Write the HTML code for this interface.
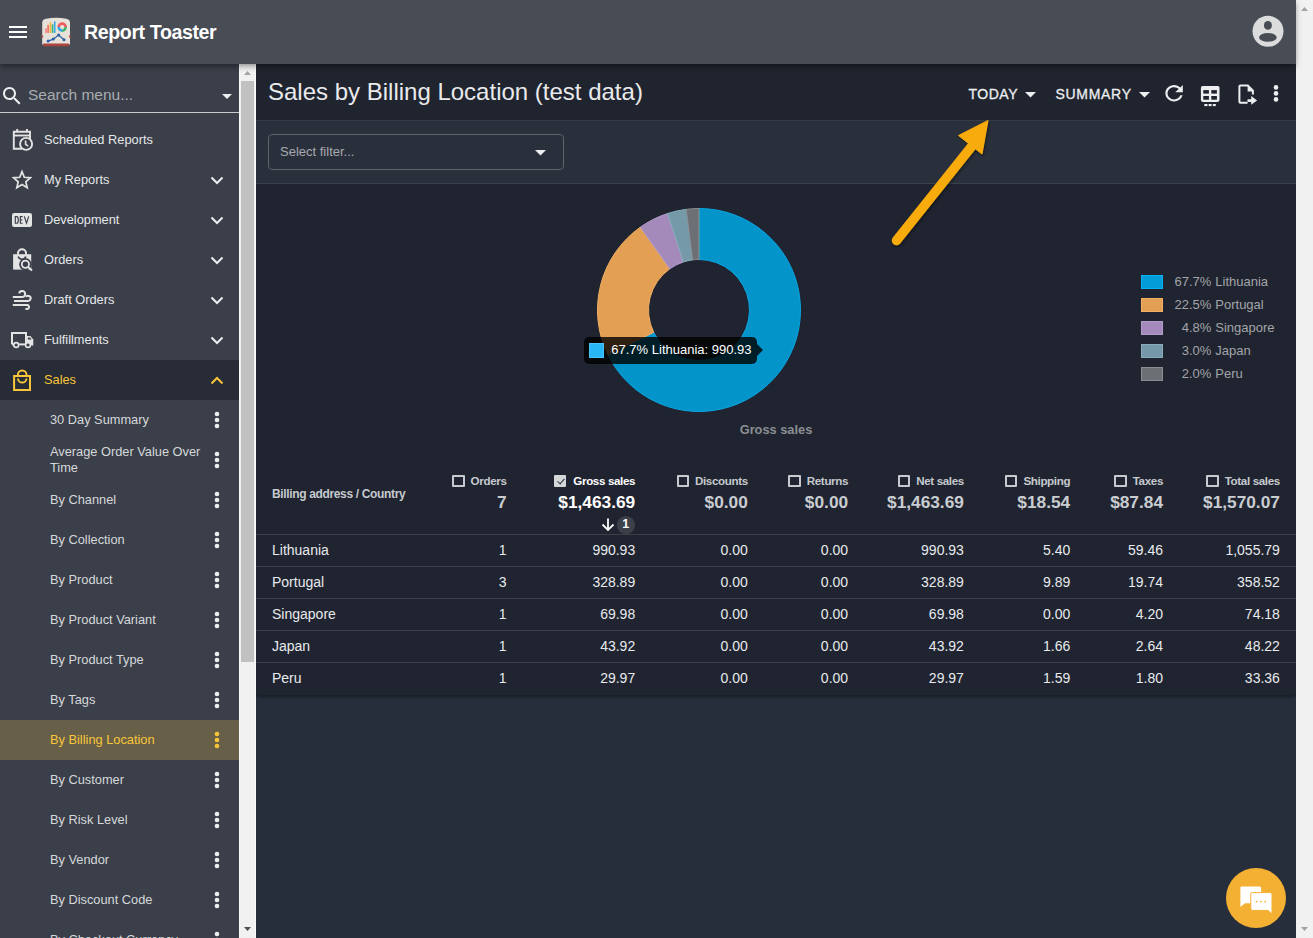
<!DOCTYPE html>
<html><head><meta charset="utf-8">
<style>
*{box-sizing:border-box;margin:0;padding:0}
html,body{width:1313px;height:938px;overflow:hidden;background:#252e3a;font-family:"Liberation Sans",sans-serif}
.abs{position:absolute}
#hdr{position:absolute;left:0;top:0;width:1296px;height:64px;background:#474c55;z-index:5;box-shadow:0 2px 4px -1px rgba(0,0,0,0.22),0 4px 5px 0 rgba(0,0,0,0.14),0 1px 8px 0 rgba(0,0,0,0.1)}
#vscroll{position:absolute;left:1296px;top:0;width:17px;height:938px;background:#f1f1f1}
#side{position:absolute;left:0;top:64px;width:239px;height:874px;background:#3a3f49;overflow:hidden}
#sscroll{position:absolute;left:239px;top:64px;width:17px;height:874px;background:#f1f1f1}
#main{position:absolute;left:256px;top:64px;width:1040px;height:874px;background:#252e3a;overflow:hidden}
.t{position:absolute;white-space:nowrap}
.mi{position:absolute;left:0;width:239px;height:40px}
.mi .lbl{position:absolute;left:44px;top:12px;font-size:12.8px;color:#e6e7e9;line-height:16px}
.si .lbl{left:50px;color:#d6d8db;font-size:12.8px}
.chev{position:absolute;left:210px;top:16px}
.kebab{position:absolute;left:214px;top:11px}
.kebab{fill:#eceef0}
.mi.sales{background:#272c36}
.mi.sales .lbl{color:#f9c63a}
.mi.act{background:#675f48}
.mi.act .lbl{color:#f9c63a}
.mi.act .kebab{fill:#f9c63a}
.si .lbl.two{top:4px}
.cb{display:inline-block;width:12.4px;height:12px;border:2px solid #c6c9ce;border-radius:1px;vertical-align:-2.5px;margin-right:6px;position:relative;letter-spacing:0}
.cb.on{background:#d6d7d9;border-color:#d6d7d9;margin-left:-1px;margin-right:7px}
.cb.on::after{content:"";position:absolute;left:2.6px;top:-0.5px;width:3.2px;height:6px;border:solid #26364a;border-width:0 1.4px 1.4px 0;transform:rotate(42deg)}
.mi:not(.sales):not(.si) > .abs{margin-top:-1px}
</style></head><body>
<div id="hdr">
  <svg class="abs" style="left:9px;top:26px" width="18" height="13"><rect x="0" y="0" width="18" height="2" fill="#fff"/><rect x="0" y="5" width="18" height="2" fill="#fff"/><rect x="0" y="10" width="18" height="2" fill="#fff"/></svg>
  <div class="t" style="left:84px;top:20px;font-size:19.6px;font-weight:bold;color:#fff;line-height:24px;letter-spacing:-0.4px">Report Toaster</div>
<svg class="abs" style="left:40px;top:16px" width="32" height="32" viewBox="40 16 32 32">
<path d="M42.2 44.5V22.8Q42.2 19.5 46 18.8Q56 16.6 66.2 18.8Q70 19.5 70 22.8V44.5Z" fill="#e6e2da"/>
<rect x="43" y="43.6" width="26.2" height="2.6" rx="1" fill="#a9443e"/>
<rect x="41.6" y="35.4" width="1.6" height="2.2" fill="#b6534c"/><rect x="69" y="35.4" width="1.6" height="2.2" fill="#b6534c"/>
<rect x="45.1" y="28.3" width="1.8" height="4.6" fill="#f08a8a"/>
<rect x="47.2" y="24.9" width="1.8" height="8" fill="#ef7a6c"/>
<rect x="49.6" y="22.2" width="1.6" height="10.7" fill="#f5b53c"/>
<rect x="51.8" y="24.3" width="1.6" height="8.6" fill="#35b37a"/>
<rect x="53.9" y="21.3" width="1.6" height="11.6" fill="#37a9e6"/>
<circle cx="62.2" cy="27.1" r="3.5" fill="none" stroke="#f0595d" stroke-width="2.6" stroke-dasharray="11 11.2" transform="rotate(180 62.2 27.1)"/>
<path d="M65.7 27.1A3.5 3.5 0 0 1 62.2 30.6" fill="none" stroke="#3bb36a" stroke-width="2.6"/>
<path d="M62.2 30.6A3.5 3.5 0 0 1 58.7 27.1" fill="none" stroke="#2ba6e6" stroke-width="2.6"/>
<path d="M48.1 41.1L53.3 39.1L58.6 35L64 39.7" fill="none" stroke="#2d5fa8" stroke-width="1.2"/>
<circle cx="48.1" cy="41.1" r="1.5" fill="#2d5fa8"/><circle cx="53.3" cy="39.1" r="1.5" fill="#2d5fa8"/><circle cx="58.6" cy="35" r="1.5" fill="#2d5fa8"/><circle cx="64" cy="39.7" r="1.5" fill="#2d5fa8"/>
</svg>
<svg class="abs" style="left:1252px;top:15px" width="32" height="32" viewBox="1252 15 32 32">
<circle cx="1268" cy="31.3" r="15.5" fill="#dcdcdc"/>
<ellipse cx="1267.9" cy="25.4" rx="4" ry="4.4" fill="#474c55"/>
<ellipse cx="1267.9" cy="37.4" rx="8.8" ry="4.4" fill="#474c55"/>
</svg>
</div>
<div id="vscroll"><svg class="abs" style="left:5px;top:7px" width="7" height="4" viewBox="0 0 7 4"><path d="M0 4L3.5 0L7 4Z" fill="#a3a3a3"/></svg>
<svg class="abs" style="left:5px;top:927px" width="7" height="4" viewBox="0 0 7 4"><path d="M0 0L3.5 4L7 0Z" fill="#a3a3a3"/></svg></div>
<div id="side">
<svg class="abs" style="left:0px;top:20px" width="24" height="24" viewBox="0 0 24 24"><path fill="#eceef0" d="M15.5 14h-.79l-.28-.27C15.41 12.59 16 11.11 16 9.5 16 5.91 13.09 3 9.5 3S3 5.91 3 9.5 5.91 16 9.5 16c1.61 0 3.09-.59 4.23-1.57l.27.28v.79l5 4.99L20.49 19l-4.99-5zm-6 0C7.01 14 5 11.99 5 9.5S7.01 5 9.5 5 14 7.01 14 9.5 11.99 14 9.5 14z"/></svg>
<div class="t" style="left:28px;top:22px;font-size:15.5px;color:#a9acb1;line-height:18px">Search menu...</div>
<svg class="abs" style="left:222px;top:30px" width="10" height="5" viewBox="0 0 10 5"><path d="M0 0h10L5 5z" fill="#eceef0"/></svg>
<div class="abs" style="left:0;top:48px;width:239px;height:1px;background:#c9cacc"></div>
<div class="mi" style="top:56px"><svg class="abs" style="left:0;top:0" width="40" height="40" viewBox="0 0 40 40" fill="none" stroke="#e4e4e4" stroke-width="1.9">
<path d="M22 29.8H13.8V12.8H30V20"/><path d="M14 16.5H30"/><path d="M17.2 10v3M27 10v3" />
<circle cx="26.1" cy="24.9" r="6" fill="#3a3f49"/><path d="M25.6 21.5v3.8l2.6 1.8" stroke-width="1.6"/></svg><div class="lbl">Scheduled Reports</div></div>
<div class="mi" style="top:96px"><svg class="abs" style="left:10px;top:9px" width="24" height="24" viewBox="0 0 24 24"><path fill="none" stroke="#e4e4e4" stroke-width="1.7" stroke-linejoin="miter" d="M12 3.6L14.3 9.3L20.4 9.8L15.8 13.8L17.2 19.8L12 16.6L6.8 19.8L8.2 13.8L3.6 9.8L9.7 9.3Z"/></svg><div class="lbl">My Reports</div><svg class="chev" width="14" height="9" viewBox="0 0 14 9"><path d="M1.5 1.5l5.5 5.5 5.5-5.5" stroke="#eceef0" stroke-width="2" fill="none"/></svg></div>
<div class="mi" style="top:136px"><svg class="abs" style="left:12px;top:14px" width="20" height="14" viewBox="0 0 20 14"><rect x="0" y="0" width="20" height="14" rx="2.2" fill="#e4e4e4"/>
<path d="M3.3 3.6V10.2H4.6Q6.3 10.2 6.3 6.9Q6.3 3.6 4.6 3.6Z M10.6 3.6H8.3V10.2H10.6M8.3 6.9H10.3 M12.3 3.4L14.5 10.2L16.7 3.4" fill="none" stroke="#3a3f49" stroke-width="1.15"/></svg><div class="lbl">Development</div><svg class="chev" width="14" height="9" viewBox="0 0 14 9"><path d="M1.5 1.5l5.5 5.5 5.5-5.5" stroke="#eceef0" stroke-width="2" fill="none"/></svg></div>
<div class="mi" style="top:176px"><svg class="abs" style="left:0;top:0" width="40" height="40" viewBox="0 0 40 40">
<path d="M18 15.5v-1.3a4 4 0 0 1 8 0v1.3" fill="none" stroke="#e4e4e4" stroke-width="2"/>
<path d="M13.1 15.2H31.2V30.6H13.1Z" fill="#e4e4e4"/>
<circle cx="25.4" cy="25.3" r="6.2" fill="#3a3f49"/>
<path d="M18.2 17.6a4 4 0 0 0 7.6 0" fill="none" stroke="#3a3f49" stroke-width="1.6"/>
<circle cx="25.4" cy="25.3" r="3.6" fill="none" stroke="#e4e4e4" stroke-width="1.8"/>
<path d="M28 27.9l4 3.6" stroke="#e4e4e4" stroke-width="2"/></svg><div class="lbl">Orders</div><svg class="chev" width="14" height="9" viewBox="0 0 14 9"><path d="M1.5 1.5l5.5 5.5 5.5-5.5" stroke="#eceef0" stroke-width="2" fill="none"/></svg></div>
<div class="mi" style="top:216px"><svg class="abs" style="left:0;top:0" width="40" height="40" viewBox="0 0 40 40" fill="none" stroke="#e4e4e4" stroke-width="2">
<path d="M12.8 18H22.4a3 3 0 1 0-3.2-3.6"/>
<path d="M14 22H27.6a2.6 2.6 0 1 0-1.6-4.2"/>
<path d="M12.8 26H27a2 2 0 1 1-1.5 3.3"/></svg><div class="lbl">Draft Orders</div><svg class="chev" width="14" height="9" viewBox="0 0 14 9"><path d="M1.5 1.5l5.5 5.5 5.5-5.5" stroke="#eceef0" stroke-width="2" fill="none"/></svg></div>
<div class="mi" style="top:256px"><svg class="abs" style="left:0;top:0" width="40" height="40" viewBox="0 0 40 40">
<path d="M12 25.2V13.9H26V25.2" fill="none" stroke="#e4e4e4" stroke-width="2"/>
<path d="M27 17H30.4L33.3 20.4V26.4H27Z" fill="#e4e4e4"/>
<path d="M27.9 18.6H30.1L31.6 20.6H27.9Z" fill="#3a3f49"/>
<path d="M12 25.4H27" stroke="#e4e4e4" stroke-width="2"/>
<circle cx="16.2" cy="26" r="2.4" fill="#3a3f49" stroke="#e4e4e4" stroke-width="1.6"/>
<circle cx="28" cy="26" r="2.4" fill="#3a3f49" stroke="#e4e4e4" stroke-width="1.6"/></svg><div class="lbl">Fulfillments</div><svg class="chev" width="14" height="9" viewBox="0 0 14 9"><path d="M1.5 1.5l5.5 5.5 5.5-5.5" stroke="#eceef0" stroke-width="2" fill="none"/></svg></div>
<div class="mi sales" style="top:296px"><svg class="abs" style="left:0;top:0" width="40" height="40" viewBox="0 0 40 40" fill="none" stroke="#f9c63a" stroke-width="2">
<path d="M14.1 16.1H30V29.9H14.1Z"/><path d="M17.9 16v-1.3a4.3 4.3 0 0 1 8.6 0V16"/><path d="M18 18.4a4.2 4.2 0 0 0 8.4 0"/></svg><div class="lbl">Sales</div><svg class="chev" width="14" height="9" viewBox="0 0 14 9"><path d="M1.5 7.5l5.5-5.5 5.5 5.5" stroke="#f6c33c" stroke-width="2" fill="none"/></svg></div>
<div class="mi si" style="top:336px"><div class="lbl">30 Day Summary</div><svg class="kebab" width="6" height="18" viewBox="0 0 6 18"><circle cx="3" cy="3" r="2.3"/><circle cx="3" cy="9" r="2.3"/><circle cx="3" cy="15" r="2.3"/></svg></div>
<div class="mi si" style="top:376px"><div class="lbl two">Average Order Value Over<br>Time</div><svg class="kebab" width="6" height="18" viewBox="0 0 6 18"><circle cx="3" cy="3" r="2.3"/><circle cx="3" cy="9" r="2.3"/><circle cx="3" cy="15" r="2.3"/></svg></div>
<div class="mi si" style="top:416px"><div class="lbl">By Channel</div><svg class="kebab" width="6" height="18" viewBox="0 0 6 18"><circle cx="3" cy="3" r="2.3"/><circle cx="3" cy="9" r="2.3"/><circle cx="3" cy="15" r="2.3"/></svg></div>
<div class="mi si" style="top:456px"><div class="lbl">By Collection</div><svg class="kebab" width="6" height="18" viewBox="0 0 6 18"><circle cx="3" cy="3" r="2.3"/><circle cx="3" cy="9" r="2.3"/><circle cx="3" cy="15" r="2.3"/></svg></div>
<div class="mi si" style="top:496px"><div class="lbl">By Product</div><svg class="kebab" width="6" height="18" viewBox="0 0 6 18"><circle cx="3" cy="3" r="2.3"/><circle cx="3" cy="9" r="2.3"/><circle cx="3" cy="15" r="2.3"/></svg></div>
<div class="mi si" style="top:536px"><div class="lbl">By Product Variant</div><svg class="kebab" width="6" height="18" viewBox="0 0 6 18"><circle cx="3" cy="3" r="2.3"/><circle cx="3" cy="9" r="2.3"/><circle cx="3" cy="15" r="2.3"/></svg></div>
<div class="mi si" style="top:576px"><div class="lbl">By Product Type</div><svg class="kebab" width="6" height="18" viewBox="0 0 6 18"><circle cx="3" cy="3" r="2.3"/><circle cx="3" cy="9" r="2.3"/><circle cx="3" cy="15" r="2.3"/></svg></div>
<div class="mi si" style="top:616px"><div class="lbl">By Tags</div><svg class="kebab" width="6" height="18" viewBox="0 0 6 18"><circle cx="3" cy="3" r="2.3"/><circle cx="3" cy="9" r="2.3"/><circle cx="3" cy="15" r="2.3"/></svg></div>
<div class="mi si act" style="top:656px"><div class="lbl">By Billing Location</div><svg class="kebab" width="6" height="18" viewBox="0 0 6 18"><circle cx="3" cy="3" r="2.3"/><circle cx="3" cy="9" r="2.3"/><circle cx="3" cy="15" r="2.3"/></svg></div>
<div class="mi si" style="top:696px"><div class="lbl">By Customer</div><svg class="kebab" width="6" height="18" viewBox="0 0 6 18"><circle cx="3" cy="3" r="2.3"/><circle cx="3" cy="9" r="2.3"/><circle cx="3" cy="15" r="2.3"/></svg></div>
<div class="mi si" style="top:736px"><div class="lbl">By Risk Level</div><svg class="kebab" width="6" height="18" viewBox="0 0 6 18"><circle cx="3" cy="3" r="2.3"/><circle cx="3" cy="9" r="2.3"/><circle cx="3" cy="15" r="2.3"/></svg></div>
<div class="mi si" style="top:776px"><div class="lbl">By Vendor</div><svg class="kebab" width="6" height="18" viewBox="0 0 6 18"><circle cx="3" cy="3" r="2.3"/><circle cx="3" cy="9" r="2.3"/><circle cx="3" cy="15" r="2.3"/></svg></div>
<div class="mi si" style="top:816px"><div class="lbl">By Discount Code</div><svg class="kebab" width="6" height="18" viewBox="0 0 6 18"><circle cx="3" cy="3" r="2.3"/><circle cx="3" cy="9" r="2.3"/><circle cx="3" cy="15" r="2.3"/></svg></div>
<div class="mi si" style="top:856px"><div class="lbl">By Checkout Currency</div><svg class="kebab" width="6" height="18" viewBox="0 0 6 18"><circle cx="3" cy="3" r="2.3"/><circle cx="3" cy="9" r="2.3"/><circle cx="3" cy="15" r="2.3"/></svg></div>
</div>
<div id="sscroll"><div class="abs" style="left:0;top:0;width:1px;height:874px;background:#fafafa"></div><div class="abs" style="left:16px;top:0;width:1px;height:874px;background:#fafafa"></div>
<svg class="abs" style="left:5px;top:7px" width="7" height="4" viewBox="0 0 7 4"><path d="M0 4L3.5 0L7 4Z" fill="#a3a3a3"/></svg>
<div class="abs" style="left:2px;top:17px;width:13px;height:581px;background:#c1c1c1"></div>
<svg class="abs" style="left:5px;top:863px" width="7" height="4" viewBox="0 0 7 4"><path d="M0 0L3.5 4L7 0Z" fill="#505050"/></svg></div>
<div id="main">
<div class="abs" style="left:0;top:0;width:1040px;height:57px;background:#1f242f;border-bottom:1px solid #363c46"></div>
<div class="t" style="left:12px;top:15.9px;font-size:24px;line-height:24px;color:#e9eaec">Sales by Billing Location (test data)</div>
<div class="t" style="left:712.4px;top:23.0px;font-size:14px;line-height:14px;color:#eceef0;letter-spacing:0.55px;-webkit-text-stroke:0.3px #eceef0">TODAY</div>
<svg class="abs" style="left:769px;top:27.799999999999997px" width="11" height="6" viewBox="0 0 11 6"><path d="M0 0h11L5.5 5.6z" fill="#eceef0"/></svg>
<div class="t" style="left:799.5px;top:23.0px;font-size:14px;line-height:14px;color:#eceef0;letter-spacing:0.7px;-webkit-text-stroke:0.3px #eceef0">SUMMARY</div>
<svg class="abs" style="left:883px;top:27.799999999999997px" width="11" height="6" viewBox="0 0 11 6"><path d="M0 0h11L5.5 5.6z" fill="#eceef0"/></svg>
<svg class="abs" style="left:905.2px;top:17.1px" width="26.2" height="24.5" viewBox="0 0 24 24" preserveAspectRatio="none"><path fill="#eceef0" d="M17.65 6.35C16.2 4.9 14.21 4 12 4c-4.42 0-7.99 3.58-7.99 8s3.57 8 7.99 8c3.73 0 6.84-2.55 7.73-6h-2.08c-.82 2.33-3.04 4-5.65 4-3.31 0-6-2.69-6-6s2.69-6 6-6c1.66 0 3.14.69 4.22 1.78L13 11h7V4l-2.35 2.35z"/></svg>
<svg class="abs" style="left:944px;top:21px" width="21" height="23" viewBox="0 0 21 23">
<rect x="0.9" y="0.9" width="18.6" height="16" rx="1.8" fill="#eceef0"/>
<rect x="3.3" y="5.1" width="5.6" height="3.5" fill="#1f242f"/><rect x="11.3" y="5.1" width="5.6" height="3.5" fill="#1f242f"/>
<rect x="3.3" y="11" width="5.6" height="3.7" fill="#1f242f"/><rect x="11.3" y="11" width="5.6" height="3.7" fill="#1f242f"/>
<rect x="4.3" y="19" width="3.2" height="2.1" fill="#eceef0"/><rect x="8.6" y="19" width="3" height="2.1" fill="#eceef0"/><rect x="12.8" y="19" width="3" height="2.1" fill="#eceef0"/>
</svg>
<svg class="abs" style="left:981px;top:20px" width="22" height="22" viewBox="0 0 22 22">
<path d="M10.6 18.7H3.4A1 1 0 0 1 2.4 17.7V2.5A1 1 0 0 1 3.4 1.5H10.8L15.9 6.6V10.4" fill="none" stroke="#eceef0" stroke-width="2"/>
<path d="M10.6 0.8L16.8 7V7.6H10.6Z" fill="#eceef0"/>
<path d="M10.5 16.6H16" stroke="#eceef0" stroke-width="2.7"/>
<path d="M14.2 12L20.1 16.4L14.2 20.8Z" fill="#eceef0"/>
</svg>
<svg class="abs" style="left:1017.3px;top:20.8px" width="6" height="17" viewBox="0 0 6 17"><circle cx="3" cy="2.4" r="2.3" fill="#eceef0"/><circle cx="3" cy="8.4" r="2.3" fill="#eceef0"/><circle cx="3" cy="14.4" r="2.3" fill="#eceef0"/></svg>
<div class="abs" style="left:0;top:57px;width:1040px;height:63px;background:#2a303b;border-bottom:1px solid #3b414b"></div>
<div class="abs" style="left:12px;top:70px;width:296px;height:36px;border:1px solid #5d626b;border-radius:4px"></div>
<div class="t" style="left:24px;top:81.0px;font-size:13px;line-height:13px;color:#a7aaaf">Select filter...</div>
<svg class="abs" style="left:279px;top:86px" width="11" height="6" viewBox="0 0 11 6"><path d="M0 0h11L5.5 5.6z" fill="#eceef0"/></svg>
<div class="abs" style="left:0;top:120px;width:1040px;height:511px;background:#1f2430;border-radius:0 0 4px 4px;box-shadow:0 2px 3px rgba(0,0,0,0.35)"></div>
<svg class="abs" style="left:339.4px;top:140px" width="210" height="210" viewBox="340 140 210 210"><path d="M444.00 144.50A101.5 101.5 0 1 1 352.99 290.94L398.72 268.36A50.5 50.5 0 1 0 444.00 195.50Z" fill="#0394c9" stroke="#0aa6e4" stroke-width="1"/><path d="M352.99 290.94A101.5 101.5 0 0 1 385.38 163.14L414.83 204.77A50.5 50.5 0 0 0 398.72 268.36Z" fill="#e3a055" stroke="#f2b064" stroke-width="1"/><path d="M385.38 163.14A101.5 101.5 0 0 1 412.63 149.47L428.39 197.97A50.5 50.5 0 0 0 414.83 204.77Z" fill="#a38abb" stroke="#b59ccf" stroke-width="1"/><path d="M412.63 149.47A101.5 101.5 0 0 1 431.28 145.30L437.67 195.90A50.5 50.5 0 0 0 428.39 197.97Z" fill="#7599a8" stroke="#87adbc" stroke-width="1"/><path d="M431.28 145.30A101.5 101.5 0 0 1 444.00 144.50L444.00 195.50A50.5 50.5 0 0 0 437.67 195.90Z" fill="#6c7074" stroke="#8a8d91" stroke-width="1"/></svg>
<div class="abs" style="left:885px;top:210.5px;width:22px;height:14.4px;background:#039cd9;border:1px solid #05b2f2"></div>
<div class="t" style="left:905.4px;width:50px;text-align:right;top:211.0px;font-size:13px;line-height:13px;color:#a3a5a8">67.7%</div>
<div class="t" style="left:959.3px;top:211.0px;font-size:13px;line-height:13px;color:#a3a5a8">Lithuania</div>
<div class="abs" style="left:885px;top:233.5px;width:22px;height:14.4px;background:#e3a055;border:1px solid #f2b064"></div>
<div class="t" style="left:905.4px;width:50px;text-align:right;top:234.0px;font-size:13px;line-height:13px;color:#a3a5a8">22.5%</div>
<div class="t" style="left:959.3px;top:234.0px;font-size:13px;line-height:13px;color:#a3a5a8">Portugal</div>
<div class="abs" style="left:885px;top:256.5px;width:22px;height:14.4px;background:#a38abb;border:1px solid #b59ccf"></div>
<div class="t" style="left:905.4px;width:50px;text-align:right;top:257.0px;font-size:13px;line-height:13px;color:#a3a5a8">4.8%</div>
<div class="t" style="left:959.3px;top:257.0px;font-size:13px;line-height:13px;color:#a3a5a8">Singapore</div>
<div class="abs" style="left:885px;top:279.5px;width:22px;height:14.4px;background:#7599a8;border:1px solid #87adbc"></div>
<div class="t" style="left:905.4px;width:50px;text-align:right;top:280.0px;font-size:13px;line-height:13px;color:#a3a5a8">3.0%</div>
<div class="t" style="left:959.3px;top:280.0px;font-size:13px;line-height:13px;color:#a3a5a8">Japan</div>
<div class="abs" style="left:885px;top:302.5px;width:22px;height:14.4px;background:#6c7074;border:1px solid #8a8d91"></div>
<div class="t" style="left:905.4px;width:50px;text-align:right;top:303.0px;font-size:13px;line-height:13px;color:#a3a5a8">2.0%</div>
<div class="t" style="left:959.3px;top:303.0px;font-size:13px;line-height:13px;color:#a3a5a8">Peru</div>
<div class="t" style="left:483.7px;top:358.9px;font-size:12.8px;line-height:13px;font-weight:bold;color:#8b8e93">Gross sales</div>
<div class="abs" style="left:328px;top:273px;width:173px;height:27px;background:rgba(0,0,0,0.8);border-radius:5px"></div>
<svg class="abs" style="left:501px;top:280px" width="7" height="12" viewBox="0 0 7 12"><path d="M0 0L6 6L0 12Z" fill="rgba(0,0,0,0.8)"/></svg>
<div class="abs" style="left:333px;top:279px;width:15px;height:15px;background:#29b6f6;border:1px solid #4cc3f7"></div>
<div class="t" style="left:355.3px;top:278.8px;font-size:13px;line-height:13px;color:#fff">67.7% Lithuania: 990.93</div>
<div class="t" style="left:16px;top:423.5px;font-size:12px;letter-spacing:-0.35px;line-height:12px;font-weight:bold;color:#c6c9ce">Billing address / Country</div>
<div class="t" style="right:789.5px;top:410.7px;font-size:11.6px;letter-spacing:-0.35px;line-height:12px;font-weight:bold;color:#c6c9ce"><span class="cb"></span>Orders</div>
<div class="t" style="right:789.5px;top:428.6px;font-size:17.3px;line-height:18px;font-weight:bold;color:#c9ccd0">7</div>
<div class="t" style="right:660.8px;top:410.7px;font-size:11.6px;letter-spacing:-0.35px;line-height:12px;font-weight:bold;color:#ffffff"><span class="cb on"></span>Gross sales</div>
<div class="t" style="right:660.8px;top:428.6px;font-size:17.3px;line-height:18px;font-weight:bold;color:#ffffff">$1,463.69</div>
<div class="t" style="right:548.2px;top:410.7px;font-size:11.6px;letter-spacing:-0.35px;line-height:12px;font-weight:bold;color:#c6c9ce"><span class="cb"></span>Discounts</div>
<div class="t" style="right:548.2px;top:428.6px;font-size:17.3px;line-height:18px;font-weight:bold;color:#c9ccd0">$0.00</div>
<div class="t" style="right:447.9px;top:410.7px;font-size:11.6px;letter-spacing:-0.35px;line-height:12px;font-weight:bold;color:#c6c9ce"><span class="cb"></span>Returns</div>
<div class="t" style="right:447.9px;top:428.6px;font-size:17.3px;line-height:18px;font-weight:bold;color:#c9ccd0">$0.00</div>
<div class="t" style="right:332.1px;top:410.7px;font-size:11.6px;letter-spacing:-0.35px;line-height:12px;font-weight:bold;color:#c6c9ce"><span class="cb"></span>Net sales</div>
<div class="t" style="right:332.1px;top:428.6px;font-size:17.3px;line-height:18px;font-weight:bold;color:#c9ccd0">$1,463.69</div>
<div class="t" style="right:225.8px;top:410.7px;font-size:11.6px;letter-spacing:-0.35px;line-height:12px;font-weight:bold;color:#c6c9ce"><span class="cb"></span>Shipping</div>
<div class="t" style="right:225.8px;top:428.6px;font-size:17.3px;line-height:18px;font-weight:bold;color:#c9ccd0">$18.54</div>
<div class="t" style="right:133px;top:410.7px;font-size:11.6px;letter-spacing:-0.35px;line-height:12px;font-weight:bold;color:#c6c9ce"><span class="cb"></span>Taxes</div>
<div class="t" style="right:133px;top:428.6px;font-size:17.3px;line-height:18px;font-weight:bold;color:#c9ccd0">$87.84</div>
<div class="t" style="right:16.1px;top:410.7px;font-size:11.6px;letter-spacing:-0.35px;line-height:12px;font-weight:bold;color:#c6c9ce"><span class="cb"></span>Total sales</div>
<div class="t" style="right:16.1px;top:428.6px;font-size:17.3px;line-height:18px;font-weight:bold;color:#c9ccd0">$1,570.07</div>
<div class="abs" style="left:0;top:470px;width:1040px;height:1px;background:#3a3f49"></div>
<div class="t" style="left:16px;top:479.1px;font-size:14px;line-height:14px;color:#e8eaed">Lithuania</div>
<div class="t" style="right:789.5px;top:479.1px;font-size:14px;line-height:14px;color:#e8eaed">1</div>
<div class="t" style="right:660.8px;top:479.1px;font-size:14px;line-height:14px;color:#e8eaed">990.93</div>
<div class="t" style="right:548.2px;top:479.1px;font-size:14px;line-height:14px;color:#e8eaed">0.00</div>
<div class="t" style="right:447.9px;top:479.1px;font-size:14px;line-height:14px;color:#e8eaed">0.00</div>
<div class="t" style="right:332.1px;top:479.1px;font-size:14px;line-height:14px;color:#e8eaed">990.93</div>
<div class="t" style="right:225.8px;top:479.1px;font-size:14px;line-height:14px;color:#e8eaed">5.40</div>
<div class="t" style="right:133px;top:479.1px;font-size:14px;line-height:14px;color:#e8eaed">59.46</div>
<div class="t" style="right:16.1px;top:479.1px;font-size:14px;line-height:14px;color:#e8eaed">1,055.79</div>
<div class="abs" style="left:0;top:502px;width:1040px;height:1px;background:#3a3f49"></div>
<div class="t" style="left:16px;top:511.1px;font-size:14px;line-height:14px;color:#e8eaed">Portugal</div>
<div class="t" style="right:789.5px;top:511.1px;font-size:14px;line-height:14px;color:#e8eaed">3</div>
<div class="t" style="right:660.8px;top:511.1px;font-size:14px;line-height:14px;color:#e8eaed">328.89</div>
<div class="t" style="right:548.2px;top:511.1px;font-size:14px;line-height:14px;color:#e8eaed">0.00</div>
<div class="t" style="right:447.9px;top:511.1px;font-size:14px;line-height:14px;color:#e8eaed">0.00</div>
<div class="t" style="right:332.1px;top:511.1px;font-size:14px;line-height:14px;color:#e8eaed">328.89</div>
<div class="t" style="right:225.8px;top:511.1px;font-size:14px;line-height:14px;color:#e8eaed">9.89</div>
<div class="t" style="right:133px;top:511.1px;font-size:14px;line-height:14px;color:#e8eaed">19.74</div>
<div class="t" style="right:16.1px;top:511.1px;font-size:14px;line-height:14px;color:#e8eaed">358.52</div>
<div class="abs" style="left:0;top:534px;width:1040px;height:1px;background:#3a3f49"></div>
<div class="t" style="left:16px;top:543.1px;font-size:14px;line-height:14px;color:#e8eaed">Singapore</div>
<div class="t" style="right:789.5px;top:543.1px;font-size:14px;line-height:14px;color:#e8eaed">1</div>
<div class="t" style="right:660.8px;top:543.1px;font-size:14px;line-height:14px;color:#e8eaed">69.98</div>
<div class="t" style="right:548.2px;top:543.1px;font-size:14px;line-height:14px;color:#e8eaed">0.00</div>
<div class="t" style="right:447.9px;top:543.1px;font-size:14px;line-height:14px;color:#e8eaed">0.00</div>
<div class="t" style="right:332.1px;top:543.1px;font-size:14px;line-height:14px;color:#e8eaed">69.98</div>
<div class="t" style="right:225.8px;top:543.1px;font-size:14px;line-height:14px;color:#e8eaed">0.00</div>
<div class="t" style="right:133px;top:543.1px;font-size:14px;line-height:14px;color:#e8eaed">4.20</div>
<div class="t" style="right:16.1px;top:543.1px;font-size:14px;line-height:14px;color:#e8eaed">74.18</div>
<div class="abs" style="left:0;top:566px;width:1040px;height:1px;background:#3a3f49"></div>
<div class="t" style="left:16px;top:575.1px;font-size:14px;line-height:14px;color:#e8eaed">Japan</div>
<div class="t" style="right:789.5px;top:575.1px;font-size:14px;line-height:14px;color:#e8eaed">1</div>
<div class="t" style="right:660.8px;top:575.1px;font-size:14px;line-height:14px;color:#e8eaed">43.92</div>
<div class="t" style="right:548.2px;top:575.1px;font-size:14px;line-height:14px;color:#e8eaed">0.00</div>
<div class="t" style="right:447.9px;top:575.1px;font-size:14px;line-height:14px;color:#e8eaed">0.00</div>
<div class="t" style="right:332.1px;top:575.1px;font-size:14px;line-height:14px;color:#e8eaed">43.92</div>
<div class="t" style="right:225.8px;top:575.1px;font-size:14px;line-height:14px;color:#e8eaed">1.66</div>
<div class="t" style="right:133px;top:575.1px;font-size:14px;line-height:14px;color:#e8eaed">2.64</div>
<div class="t" style="right:16.1px;top:575.1px;font-size:14px;line-height:14px;color:#e8eaed">48.22</div>
<div class="abs" style="left:0;top:598px;width:1040px;height:1px;background:#3a3f49"></div>
<div class="t" style="left:16px;top:607.1px;font-size:14px;line-height:14px;color:#e8eaed">Peru</div>
<div class="t" style="right:789.5px;top:607.1px;font-size:14px;line-height:14px;color:#e8eaed">1</div>
<div class="t" style="right:660.8px;top:607.1px;font-size:14px;line-height:14px;color:#e8eaed">29.97</div>
<div class="t" style="right:548.2px;top:607.1px;font-size:14px;line-height:14px;color:#e8eaed">0.00</div>
<div class="t" style="right:447.9px;top:607.1px;font-size:14px;line-height:14px;color:#e8eaed">0.00</div>
<div class="t" style="right:332.1px;top:607.1px;font-size:14px;line-height:14px;color:#e8eaed">29.97</div>
<div class="t" style="right:225.8px;top:607.1px;font-size:14px;line-height:14px;color:#e8eaed">1.59</div>
<div class="t" style="right:133px;top:607.1px;font-size:14px;line-height:14px;color:#e8eaed">1.80</div>
<div class="t" style="right:16.1px;top:607.1px;font-size:14px;line-height:14px;color:#e8eaed">33.36</div>
<svg class="abs" style="left:344.8px;top:454px" width="14" height="13" viewBox="0 0 14 13" fill="none" stroke="#fff" stroke-width="1.8"><path d="M7 0.5V12"/><path d="M1.5 6.5L7 12L12.5 6.5"/></svg>
<div class="abs" style="left:361px;top:452.2px;width:17.6px;height:17.6px;border-radius:50%;background:#3b4049;color:#fff;font-size:12.5px;font-weight:bold;line-height:17.6px;text-align:center">1</div>
<svg class="abs" style="left:0;top:0;overflow:visible" width="1040" height="874">
<defs><filter id="sh" x="-20%" y="-20%" width="140%" height="140%"><feDropShadow dx="1" dy="1.5" stdDeviation="1.5" flood-color="#000" flood-opacity="0.45"/></filter></defs>
<g filter="url(#sh)" transform="translate(-256 -64)">
<path d="M896.5 240.5L972 146" stroke="#f8ab0e" stroke-width="9.5" stroke-linecap="round"/>
<path d="M988 120.5L958.5 135.5L982 154Z" fill="#f8ab0e" stroke="#f8ab0e" stroke-width="1" stroke-linejoin="round"/>
</g></svg>
<svg class="abs" style="left:970px;top:804px" width="60" height="60" viewBox="1226 868 60 60">
<circle cx="1256" cy="898" r="30" fill="#f4b032"/>
<path d="M1241.4 886.4H1259.5A1.6 1.6 0 0 1 1261.1 888V903.2H1245L1240.4 907V887.4A1 1 0 0 1 1241.4 886.4Z" fill="#fff"/>
<path d="M1251.3 892.6H1270.4A1.6 1.6 0 0 1 1272 894.2V914L1268 910.4H1252.4A1.6 1.6 0 0 1 1250.8 908.8V894.2A1.6 1.6 0 0 1 1251.3 892.6Z" fill="#fff" stroke="#f4b032" stroke-width="1"/>
<circle cx="1256.6" cy="901.6" r="0.9" fill="#f4b032"/><circle cx="1260.9" cy="901.6" r="0.9" fill="#f4b032"/><circle cx="1265.2" cy="901.6" r="0.9" fill="#f4b032"/>
</svg>
</div>
</body></html>
